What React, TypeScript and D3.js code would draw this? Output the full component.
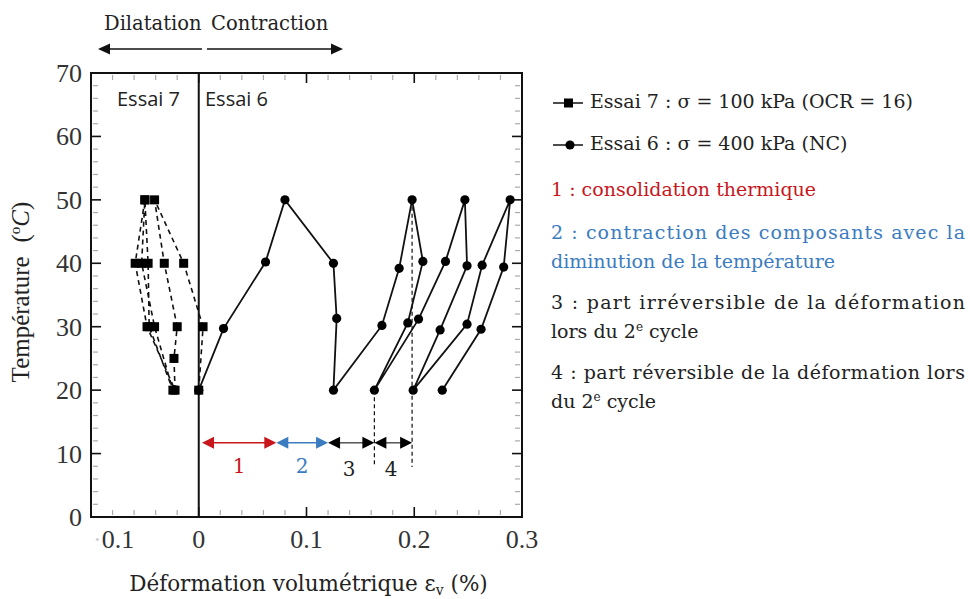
import React from 'react';
import * as d3 from 'd3';

// ---------- data ----------
const xTicks = [-0.1, 0, 0.1, 0.2, 0.3];
const xTickLabels = ['-0.1', '0', '0.1', '0.2', '0.3'];
const yTicks = [0, 10, 20, 30, 40, 50, 60, 70];
const yTickLabels = ['0', '10', '20', '30', '40', '50', '60', '70'];

// Essai 7 (squares, dashed)
const essai7X = [0.000, 0.004, -0.014, -0.041, -0.032, -0.020, -0.023, -0.022, -0.048, -0.059, -0.050, -0.053, -0.041, -0.024, -0.046, -0.047, -0.050];
const essai7T = [20, 30, 40, 50, 40, 30, 25, 20, 30, 40, 50, 40, 30, 20, 30, 40, 50];

// Essai 6 (circles, solid)
const essai6X = [0.000, 0.023, 0.062, 0.080, 0.125, 0.128, 0.125, 0.170, 0.186, 0.198, 0.208, 0.194, 0.163, 0.204, 0.229, 0.247, 0.249, 0.224, 0.199, 0.249, 0.263, 0.289, 0.283, 0.262, 0.226];
const essai6T = [20, 29.7, 40.2, 50, 40, 31.3, 20, 30.2, 39.2, 50, 40.3, 30.6, 20, 31.2, 40.3, 50, 39.6, 29.5, 20, 30.4, 39.7, 50, 39.4, 29.6, 20];

// annotated strain segments
const segStart = [0.003, 0.072, 0.120, 0.163];
const segEnd = [0.072, 0.120, 0.163, 0.198];
const segLabels = ['1', '2', '3', '4'];
const segT = 11.7;
const refLineX = [0.163, 0.198];
const refLineTopT = [20, 50];
const refLineBottomT = 7.9;

const RED = '#c8161d';
const BLUE = '#3b7cc0';
const TXT = '#222';
const segLineColors = [RED, BLUE, '#555', '#555'];
const segHeadColors = [RED, BLUE, '#000', '#000'];
const segLabelColors = [RED, BLUE, TXT, TXT];

const W = 970, H = 599;
const x = d3.scaleLinear().domain([-0.1, 0.3]).range([91, 522]);
const y = d3.scaleLinear().domain([0, 70]).range([517, 73]);

const serif = '"DejaVu Serif", serif';
const times = '"Liberation Serif", "DejaVu Serif", serif';
const sans = '"Open Sans", Lato, sans-serif';

function head(tipX: number, tipY: number, dir: number, len = 12, half = 5.5) {
  return `M${tipX},${tipY} L${tipX - dir * len},${tipY - half} L${tipX - dir * len},${tipY + half} Z`;
}

export default function App() {
  const e7 = essai7X.map((v, i) => [v, essai7T[i]] as [number, number]);
  const e6 = essai6X.map((v, i) => [v, essai6T[i]] as [number, number]);
  const line = d3.line<[number, number]>().x(d => x(d[0])).y(d => y(d[1]));

  const xMinor = d3.range(-0.1, 0.3001, 0.02).filter(v => Math.abs(Math.round(v * 10) - v * 10) > 1e-6);
  const yMinor = d3.range(0, 70.01, 2).filter(v => v % 10 !== 0);

  const L = x(-0.1), R = x(0.3), T = y(70), B = y(0);

  return (
    <svg width={W} height={H} style={{ position: 'absolute', left: 0, top: 0, background: '#fff' }}>
      <rect x={0} y={0} width={W} height={H} fill="#fff" />

      {/* top annotation arrows */}
      <text x={104} y={30} fontFamily={serif} fontSize={19.5} fill={TXT}>Dilatation</text>
      <text x={211} y={30} fontFamily={serif} fontSize={19.5} fill={TXT}>Contraction</text>
      <line x1={105} x2={202} y1={49} y2={49} stroke="#111" strokeWidth={1.5} />
      <path d={head(98, 49, -1)} fill="#111" />
      <line x1={207} x2={336} y1={49} y2={49} stroke="#111" strokeWidth={1.5} />
      <path d={head(343, 49, 1)} fill="#111" />

      {/* minor ticks */}
      {xMinor.map((v, i) => (
        <g key={'xm' + i} stroke="#aaa" strokeWidth={1.2}>
          <line x1={x(v)} x2={x(v)} y1={B - 2} y2={B - 7} />
          <line x1={x(v)} x2={x(v)} y1={T + 2} y2={T + 7} />
        </g>
      ))}
      {yMinor.map((v, i) => (
        <g key={'ym' + i} stroke="#aaa" strokeWidth={1.2}>
          <line x1={L + 2} x2={L + 7} y1={y(v)} y2={y(v)} />
          <line x1={R - 2} x2={R - 7} y1={y(v)} y2={y(v)} />
        </g>
      ))}
      {/* major ticks */}
      {xTicks.map((v, i) => (
        <g key={'xM' + i} stroke="#111" strokeWidth={1.6}>
          <line x1={x(v)} x2={x(v)} y1={B} y2={B - 10} />
          <line x1={x(v)} x2={x(v)} y1={T} y2={T + 10} />
        </g>
      ))}
      {yTicks.map((v, i) => (
        <g key={'yM' + i} stroke="#111" strokeWidth={1.6}>
          <line x1={L} x2={L + 10} y1={y(v)} y2={y(v)} />
          <line x1={R} x2={R - 10} y1={y(v)} y2={y(v)} />
        </g>
      ))}

      {/* frame */}
      <rect x={L} y={T} width={R - L} height={B - T} fill="none" stroke="#111" strokeWidth={2} />
      {/* zero line */}
      <line x1={x(0)} x2={x(0)} y1={T} y2={B} stroke="#111" strokeWidth={2} />

      {/* tick labels */}
      {yTicks.map((v, i) => (
        <text key={'yl' + i} x={L - 9} y={y(v) + 9} textAnchor="end" fontFamily={times} fontSize={26} fill="#333">{yTickLabels[i]}</text>
      ))}
      {xTicks.map((v, i) => (
        i === 0 ? (
          <text key={'xl' + i} x={x(v) + 2} y={B + 31} textAnchor="start" fontFamily={times} fontSize={26} fill="#333">
            <tspan fill="#ccc">·</tspan>{xTickLabels[i].slice(1)}
          </text>
        ) : (
          <text key={'xl' + i} x={x(v)} y={B + 31} textAnchor="middle" fontFamily={times} fontSize={26} fill="#333">{xTickLabels[i]}</text>
        )
      ))}

      {/* axis titles */}
      <text transform={`translate(29,${292}) rotate(-90)`} textAnchor="middle" fontFamily={times} fontSize={25} fill="#222">
        Température<tspan dx={14}>(</tspan><tspan fontSize={15} dy={-9}>o</tspan><tspan fontStyle="italic" dy={9}>C</tspan>)
      </text>
      <text x={(L + R) / 2 + 2} y={591} textAnchor="middle" fontFamily={serif} fontSize={21.5} fill={TXT}>
        Déformation volumétrique ε<tspan fontSize={14} dy={4}>v</tspan><tspan dy={-4}> (%)</tspan>
      </text>

      {/* Essai labels */}
      <text x={117} y={106} fontFamily={sans} fontSize={20} fill={TXT}>Essai 7</text>
      <text x={205} y={106} fontFamily={sans} fontSize={20} fill={TXT}>Essai 6</text>

      {/* Essai 7 */}
      <path d={line(e7) || ''} fill="none" stroke="#111" strokeWidth={1.6} strokeDasharray="5,4" />
      {e7.map((d, i) => (
        <rect key={'s' + i} x={x(d[0]) - 4.5} y={y(d[1]) - 4.5} width={9} height={9} fill="#000" />
      ))}

      {/* Essai 6 */}
      <path d={line(e6) || ''} fill="none" stroke="#111" strokeWidth={1.8} />
      {e6.map((d, i) => (
        <circle key={'c' + i} cx={x(d[0])} cy={y(d[1])} r={4.6} fill="#000" />
      ))}

      {/* reference dashed lines */}
      {refLineX.map((v, i) => (
        <line key={'rl' + i} x1={x(v)} x2={x(v)} y1={y(refLineTopT[i])} y2={y(refLineBottomT)} stroke="#111" strokeWidth={1.2} strokeDasharray="4,3" />
      ))}

      {/* segment arrows */}
      {segStart.map((s, i) => {
        const x1 = x(s), x2 = x(segEnd[i]), yy = y(segT);
        return (
          <g key={'seg' + i}>
            <line x1={x1 + 10} x2={x2 - 10} y1={yy} y2={yy} stroke={segLineColors[i]} strokeWidth={1.5} />
            <path d={head(x1, yy, -1, 12, 6)} fill={segHeadColors[i]} />
            <path d={head(x2, yy, 1, 12, 6)} fill={segHeadColors[i]} />
            <text x={(x1 + x2) / 2 + (i >= 2 ? -2 : 0)} y={yy + 30 + (i >= 2 ? 3 : 0)} textAnchor="middle" fontFamily={serif} fontSize={20} fill={segLabelColors[i]}>{segLabels[i]}</text>
          </g>
        );
      })}

      {/* legend */}
      <line x1={553} x2={583} y1={103} y2={103} stroke="#111" strokeWidth={1.5} />
      <rect x={564} y={98.5} width={9} height={9} fill="#000" />
      <text x={590} y={108} fontFamily={serif} fontSize={19} fill={TXT}>Essai 7 : σ = 100 kPa (OCR = 16)</text>
      <line x1={553} x2={583} y1={145} y2={145} stroke="#111" strokeWidth={1.5} />
      <circle cx={570} cy={145} r={4.6} fill="#000" />
      <text x={590} y={150} fontFamily={serif} fontSize={19} fill={TXT}>Essai 6 : σ = 400 kPa (NC)</text>

      <text x={551} y={196} fontFamily={serif} fontSize={19} fill={RED}>1 : consolidation thermique</text>
      <text x={551} y={239} fontFamily={serif} fontSize={19} fill={BLUE} textLength={414} lengthAdjust="spacing">2 : contraction des composants avec la</text>
      <text x={551} y={268} fontFamily={serif} fontSize={19} fill={BLUE}>diminution de la température</text>
      <text x={551} y={309} fontFamily={serif} fontSize={19} fill={TXT} textLength={414} lengthAdjust="spacing">3 : part irréversible de la déformation</text>
      <text x={551} y={338} fontFamily={serif} fontSize={19} fill={TXT}>lors du 2<tspan fontSize={12} dy={-7}>e</tspan><tspan dy={7}> cycle</tspan></text>
      <text x={551} y={379} fontFamily={serif} fontSize={19} fill={TXT} textLength={414} lengthAdjust="spacing">4 : part réversible de la déformation lors</text>
      <text x={551} y={408} fontFamily={serif} fontSize={19} fill={TXT}>du 2<tspan fontSize={12} dy={-7}>e</tspan><tspan dy={7}> cycle</tspan></text>
    </svg>
  );
}
